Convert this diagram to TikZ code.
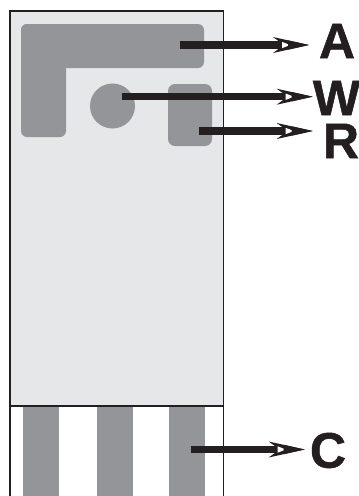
\documentclass[tikz,border=0pt]{standalone}
\usepackage{fontspec}
\setmainfont{Liberation Sans}
\newfontfamily\letterfont{Liberation Sans}[BoldFeatures={FakeBold=1}]
\usetikzlibrary{positioning,calc}
\definecolor{chipgray}{HTML}{E6E7E8}
\definecolor{padgray}{HTML}{939598}
\definecolor{inkblack}{HTML}{231F20}
\tikzset{
  pad/.style={fill=padgray,draw=none},
  lead/.style={draw=inkblack,line width=7.5pt},
  letter/.style={font=\letterfont\fontsize{50}{50}\selectfont\bfseries,text=inkblack,inner sep=0pt},
  barbhead/.pic={
    \fill[inkblack] (0,0) -- (-36,-8) -- (-25,0) -- (-36,8) -- cycle;
    \fill[white] (-27,-3.2) -- (-19,0) -- (-27,3.2) -- cycle;
    \fill[inkblack] (0,0) -- (-21,-4.7) -- (-21,4.7) -- cycle;
  }
}
\begin{document}
\begin{tikzpicture}[x=1pt,y=-1pt]
\useasboundingbox (0,0) rectangle (359,496);
% Chip body
\fill[chipgray] (10,11) rectangle (223.5,406);
\draw[inkblack,line width=1.2pt] (10,496) -- (10,11) -- (223.5,11) -- (223.5,496);
\draw[inkblack,line width=1.2pt] (10,406) -- (223.5,406);
% Electrodes
\draw[pad,rounded corners=6pt] (21,24) rectangle (204,68);
\draw[pad,rounded corners=6pt] (21,24) rectangle (66,137);
\node[pad,circle,minimum size=45pt,inner sep=0pt] (padW) at (112.5,106) {};
\draw[pad,rounded corners=7pt] (168,84) rectangle (212,146);
% Contacts
\foreach \x in {23,97,169}
  \fill[padgray] (\x,406.6) rectangle (\x+36,496);
% Labels
\node[letter,anchor=center] (labA) at (337,41) {A};
\node[letter,anchor=center] (labW) at (336.5,98) {W};
\node[letter,anchor=center] (labR) at (341,141) {R};
\node[letter,anchor=center] (labC) at (328,450.5) {C};
% Leads
\coordinate (startA) at (180,45);
\coordinate (tipA) at (309,45);
\coordinate (startW) at (122,96.7);
\coordinate (tipW) at (312.7,96.7);
\coordinate (startR) at (199,131);
\coordinate (tipR) at (312.7,131);
\coordinate (startC) at (190.5,449.5);
\coordinate (tipC) at (304.7,449.5);
\foreach \n in {A,W,R,C}{
  \draw[lead] (start\n) -- ($(tip\n)+(-27,0)$);
  \pic at (tip\n) {barbhead};
}
\end{tikzpicture}
\end{document}
